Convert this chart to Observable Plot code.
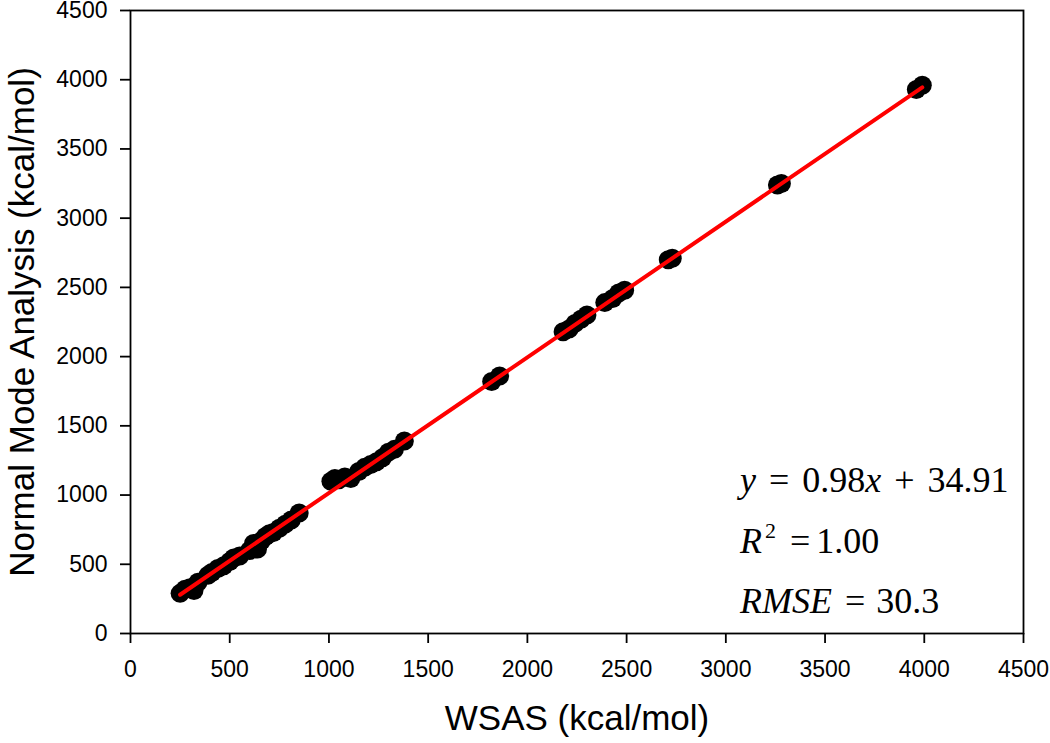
<!DOCTYPE html>
<html>
<head>
<meta charset="utf-8">
<script src="https://cdn.jsdelivr.net/npm/d3@7"></script>
<script src="https://cdn.jsdelivr.net/npm/@observablehq/plot@0.6"></script>
<style>
  html, body { margin: 0; padding: 0; background: #fff; }
  #chart { width: 1050px; height: 743px; }
</style>
</head>
<body>
<div id="chart"></div>
<script>
// WSAS energies (kcal/mol)
const wsas = [250, 275, 300, 320, 340, 390, 410, 440, 470, 500, 520, 550, 600, 620, 640, 660, 680, 700, 720, 750, 780, 810, 850,
  1010, 1030, 1050, 1080, 1110, 1150, 1180, 1210, 1240, 1270, 1300, 1330, 1380,
  1820, 1860, 2180, 2210, 2240, 2270, 2300, 2390, 2430, 2460, 2490, 2710, 2730, 3260, 3280, 3960, 3990];
// Normal mode analysis energies (kcal/mol)
const nma = [290, 320, 330, 310, 370, 420, 440, 470, 490, 520, 545, 560, 600, 650, 610, 670, 700, 720, 730, 760, 790, 820, 870,
  1100, 1120, 1110, 1130, 1120, 1170, 1200, 1220, 1240, 1270, 1310, 1330, 1390,
  1820, 1860, 2180, 2200, 2240, 2270, 2300, 2390, 2420, 2460, 2480, 2700, 2710, 3240, 3250, 3930, 3960];
const xTicks = [0, 500, 1000, 1500, 2000, 2500, 3000, 3500, 4000, 4500];
const yTicks = [0, 500, 1000, 1500, 2000, 2500, 3000, 3500, 4000, 4500];
const slope = 0.98;
const intercept = 34.91;
const xTitle = "WSAS (kcal/mol)";
const yTitle = "Normal Mode Analysis (kcal/mol)";

const points = wsas.map((x, i) => ({x, y: nma[i]}));
const xmin = d3.min(wsas), xmax = d3.max(wsas);
const fit = [xmin, xmax].map(x => ({x, y: slope * x + intercept}));

const plot = Plot.plot({
  width: 1050,
  height: 743,
  marginLeft: 130,
  marginRight: 27,
  marginTop: 10,
  marginBottom: 110,
  style: {fontFamily: "'Liberation Sans', Arial, sans-serif", fontSize: "23px", background: "#fff", color: "#000"},
  x: {domain: [0, 4500]},
  y: {domain: [0, 4500]},
  marks: [
    Plot.dot(points, {x: "x", y: "y", r: 9.5, fill: "#000", stroke: "none"}),
    Plot.line(fit, {x: "x", y: "y", stroke: "#ff0000", strokeWidth: 4}),
    Plot.frame({stroke: "#000", strokeWidth: 1.8}),
    Plot.axisX({ticks: xTicks, tickSize: 10, tickPadding: 17, fontSize: 23, label: null, tickFormat: d => String(d), strokeWidth: 1.8}),
    Plot.axisY({ticks: yTicks, tickSize: 10, tickPadding: 13, fontSize: 23, label: null, tickFormat: d => String(d), strokeWidth: 1.8}),
    Plot.text([xTitle], {text: d => d, frameAnchor: "bottom", dy: 85, fontSize: 35, lineAnchor: "middle", textAnchor: "middle"}),
    Plot.text([yTitle], {text: d => d, frameAnchor: "left", dx: -108, rotate: -90, fontSize: 35, lineAnchor: "middle", textAnchor: "middle"})
  ]
});

document.getElementById("chart").appendChild(plot);

// equation annotation with mixed italic/upright text
const svg = d3.select(plot);
const g = svg.append("g")
  .attr("font-family", "'Liberation Serif', 'Times New Roman', serif")
  .attr("font-size", 36)
  .attr("text-anchor", "start")
  .attr("fill", "#000");

const eq1 = g.append("text").attr("x", 740).attr("y", 492);
eq1.append("tspan").attr("font-style", "italic").text("y");
eq1.append("tspan").attr("dx", 13).text("=");
eq1.append("tspan").attr("dx", 13).text("0.98");
eq1.append("tspan").attr("font-style", "italic").text("x");
eq1.append("tspan").attr("dx", 13).text("+");
eq1.append("tspan").attr("dx", 13).text("34.91");

const eq2 = g.append("text").attr("x", 740).attr("y", 553);
eq2.append("tspan").attr("font-style", "italic").text("R");
eq2.append("tspan").attr("font-size", 22).attr("dx", 3).attr("dy", -15).text("2");
eq2.append("tspan").attr("dx", 14).attr("dy", 15).text("=");
eq2.append("tspan").attr("dx", 6).text("1.00");

const eq3 = g.append("text").attr("x", 740).attr("y", 613);
eq3.append("tspan").attr("font-style", "italic").text("RMSE");
eq3.append("tspan").attr("dx", 13).text("=");
eq3.append("tspan").attr("dx", 11).text("30.3");
</script>
</body>
</html>
